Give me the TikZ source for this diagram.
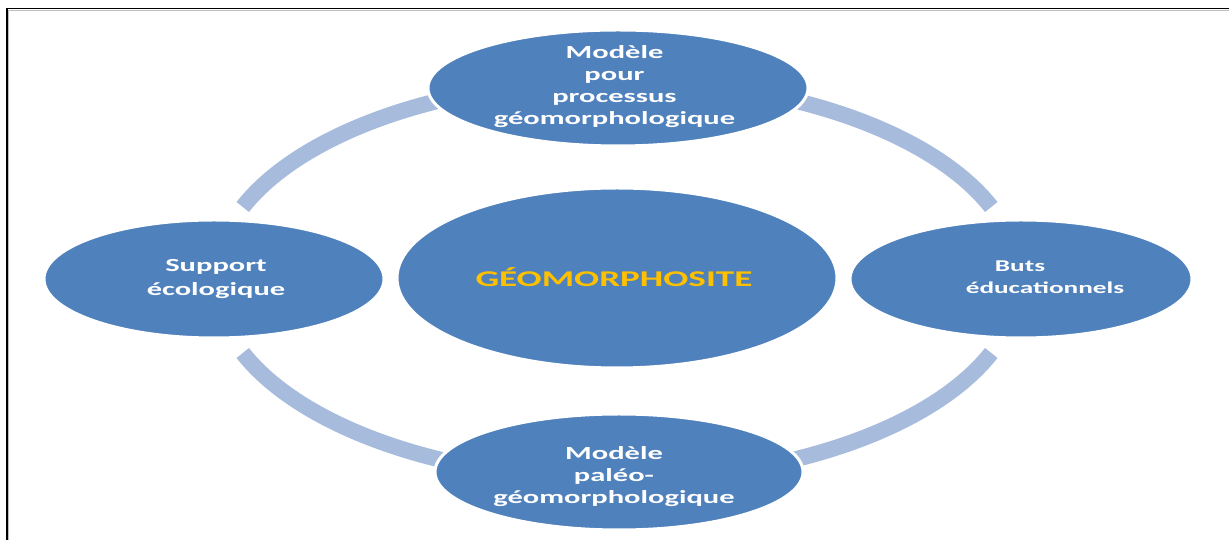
\documentclass[tikz,border=0pt]{standalone}
\usepackage{fontspec}
\usetikzlibrary{shapes.geometric}
\newfontfamily\diagfont{Carlito}[FakeStretch=1.65]
\definecolor{nodeblue}{RGB}{79,129,189}
\definecolor{ringblue}{RGB}{167,188,220}
\definecolor{titlegold}{RGB}{255,192,0}
\definecolor{frameshade}{RGB}{190,190,190}
\begin{document}
\begin{tikzpicture}[x=1pt,y=1pt,
  bubble/.style={ellipse, fill=nodeblue, draw=white, line width=3pt, inner sep=0pt},
  caption/.style={text=white, align=center, inner sep=0pt,
    font=\diagfont\bfseries\fontsize{18.5}{22}\selectfont},
  widecaption/.style={caption, font=\diagfont\bfseries\fontsize{18.5}{24}\selectfont},
  smallcaption/.style={caption, font=\diagfont\bfseries\fontsize{16.5}{22.5}\selectfont},
  ring/.style={ringblue, line width=16pt},
  frameline/.style={black, line width=1.6pt},
  frameshadow/.style={frameshade, line width=1pt},
]
\useasboundingbox (0,0) rectangle (1229,540);

% page frame (open to the right and bottom)
\draw[frameshadow] (1235,529.6) -- (8.8,529.6) -- (8.8,-5);
\draw[frameline] (1235,531.3) -- (7.2,531.3) -- (7.2,-5);

% the cycle ring, in four arcs around the hub
\coordinate (hub) at (617,260);
\draw[ring] (hub) ++(110:402pt and 200pt) arc[start angle=110, end angle=158.6, x radius=402pt, y radius=200pt];
\draw[ring] (hub) ++(201.4:402pt and 200pt) arc[start angle=201.4, end angle=250, x radius=402pt, y radius=200pt];
\draw[ring] (hub) ++(70:402pt and 200pt) arc[start angle=70, end angle=21.4, x radius=402pt, y radius=200pt];
\draw[ring] (hub) ++(-70:402pt and 200pt) arc[start angle=-70, end angle=-21.4, x radius=402pt, y radius=200pt];

% outer nodes
\node[bubble, minimum width=380, minimum height=116] (top) at (618,452) {};
\node[caption] (toptext) at (614.5,453) {Modèle\\pour\\processus\\géomorphologique};

\node[bubble, minimum width=340, minimum height=118] (left) at (214,261) {};
\node[widecaption] (lefttext) at (216,260.5) {Support\\écologique};

\node[bubble, minimum width=342, minimum height=118] (right) at (1021,261) {};
\node[smallcaption] (righttext) at (1045,263) {Buts\hspace*{50pt}\\éducationnels};

\node[bubble, minimum width=368, minimum height=116] (bottom) at (619,68) {};
\node[caption] (bottomtext) at (614,63) {Modèle\\paléo-\\géomorphologique};

% central node
\node[bubble, minimum width=440, minimum height=180] (core) at (617,262) {};
\node[caption, text=titlegold, font=\diagfont\bfseries\fontsize{22.5}{26}\selectfont] (coretext) at (614,262.5) {GÉOMORPHOSITE};
\end{tikzpicture}
\end{document}
